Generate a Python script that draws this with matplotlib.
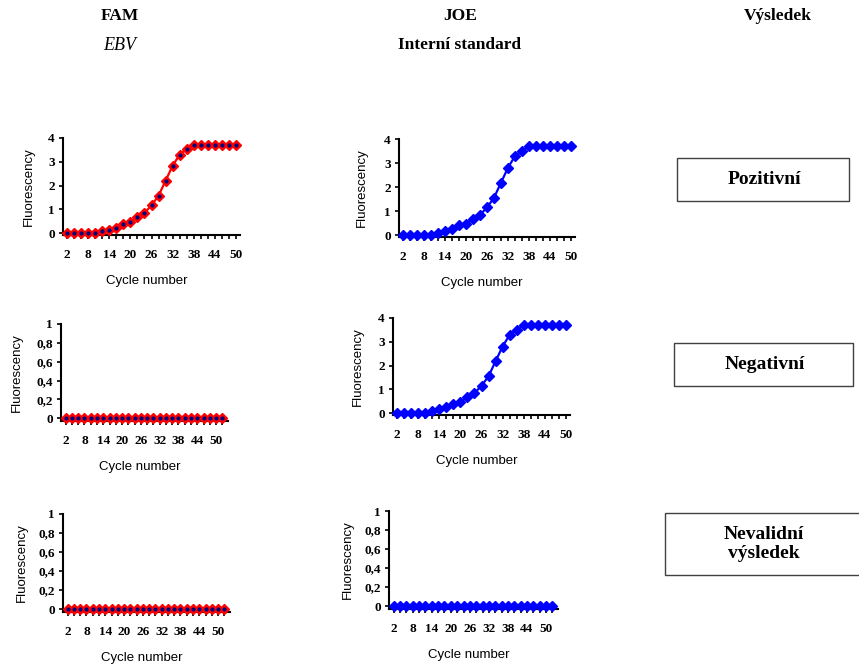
import matplotlib
matplotlib.use("Agg")
import matplotlib.pyplot as plt
from matplotlib.patches import Rectangle

W, H = 859, 664

# cycle numbers (categories) and fluorescence readings
cycles_pos = [2, 4, 6, 8, 10, 12, 14, 16, 18, 20, 22, 24, 26, 28, 30, 32, 34, 36, 38, 40, 42, 44, 46, 48, 50]
cycles_zero = [2, 4, 6, 8, 10, 12, 14, 16, 18, 20, 22, 24, 26, 28, 30, 32, 34, 36, 38, 40, 42, 44, 46, 48, 50, 52]
fam_pos = [0, 0, 0, 0, 0, 0.10, 0.15, 0.22, 0.37, 0.45, 0.68, 0.85, 1.17, 1.57, 2.20, 2.83, 3.30, 3.53, 3.70,
           3.70, 3.70, 3.70, 3.70, 3.70, 3.70]
joe_pos = [0, 0, 0, 0, 0, 0.10, 0.18, 0.26, 0.40, 0.47, 0.69, 0.84, 1.15, 1.55, 2.18, 2.80, 3.29, 3.50, 3.70,
           3.70, 3.70, 3.70, 3.70, 3.70, 3.70]
zero_vals = [0] * len(cycles_zero)

xtick_vals = [2, 8, 14, 20, 26, 32, 38, 44, 50]
ytick_big = [0, 1, 2, 3, 4]
ytick_small = [0, 0.2, 0.4, 0.6, 0.8, 1]
ytick_small_lbl = ["0", "0,2", "0,4", "0,6", "0,8", "1"]

col_titles = [("FAM", "EBV"), ("JOE", "Interní standard"), ("Výsledek", None)]
results = ["Pozitivní", "Negativní", "Nevalidní\nvýsledek"]

plt.rcParams['font.family'] = ['Liberation Serif', 'DejaVu Serif']

fig = plt.figure(figsize=(W / 100, H / 100), dpi=100)


def frac(x, y):
    return x / W, 1 - y / H


def panel(box, xs, ys, kind, small, xlim, ylabel_x, xlabel_gap=46):
    l, r, t, b = box
    ax = fig.add_axes([l / W, 1 - b / H, (r - l) / W, (b - t) / H])
    if kind == "fam":
        ax.plot(xs, ys, color="red", lw=1.6, marker="D", ms=5.2, mfc="red", mec="red", mew=1.0, clip_on=False, zorder=3)
        ax.plot(xs, ys, ls="none", marker="o", ms=2.0, color="#000080", clip_on=False, zorder=4)
    else:
        ax.plot(xs, ys, color="#0000ff", lw=1.6, marker="D", ms=5.6, mfc="#0000ff", mec="#0000ff", mew=1.0,
                clip_on=False, zorder=3)
    for s in ["top", "right"]:
        ax.spines[s].set_visible(False)
    for s in ["left", "bottom"]:
        ax.spines[s].set_linewidth(1.5)
    ax.set_xlim(*xlim)
    if small:
        ax.set_ylim(-0.03, 1)
        ax.set_yticks(ytick_small)
        ax.set_yticklabels(ytick_small_lbl)
    else:
        ax.set_ylim(-0.08, 4)
        ax.set_yticks(ytick_big)
    ax.set_xticks(xtick_vals)
    ax.set_xticks(xs, minor=True)
    ax.tick_params(axis="both", which="both", direction="out", length=3, width=1.2, labelsize=9.5)
    ax.tick_params(axis="x", pad=7)
    ax.tick_params(axis="y", pad=3)
    for lbl in ax.get_xticklabels() + ax.get_yticklabels():
        lbl.set_fontweight("bold")
    cx = (l + r) / 2
    fig.text(*frac(cx - 5, b + xlabel_gap), "Cycle number", family="Liberation Sans", fontsize=9.5,
             ha="center", va="center")
    fig.text(*frac(ylabel_x, (t + b) / 2), "Fluorescency", family="Liberation Sans", fontsize=9.5,
             rotation=90, ha="center", va="center")
    return ax


panel((63, 240, 138, 235), cycles_pos, fam_pos, "fam", False, (0.8, 51.2), 29)
panel((399, 575, 139, 237), cycles_pos, joe_pos, "joe", False, (0.8, 51.2), 362)
panel((61, 228, 324, 421), cycles_zero, zero_vals, "fam", True, (0.5, 53.8), 17)
panel((393, 570, 318, 415), cycles_pos, joe_pos, "joe", False, (0.8, 51.2), 358)
panel((63, 230, 514, 612), cycles_zero, zero_vals, "fam", True, (0.5, 53.8), 22)
panel((389, 558, 511, 609), cycles_zero, zero_vals, "joe", True, (0.5, 53.8), 348)

# column titles
title_x = [120, 460, 778]
for (top, sub), x in zip(col_titles, title_x):
    fig.text(*frac(x, 16), top, fontsize=12.5, fontweight="bold", ha="center", va="center")
    if sub == "EBV":
        fig.text(*frac(x, 45), sub, fontsize=13, style="italic", ha="center", va="center")
    elif sub is not None:
        fig.text(*frac(x, 45), sub, fontsize=12.5, fontweight="bold", ha="center", va="center")

# result boxes
boxes = [(677, 158, 849, 201), (674, 343, 853, 386), (665, 513, 860, 575)]
for (x0, y0, x1, y1), txt in zip(boxes, results):
    fig.add_artist(Rectangle(frac(x0, y1), (x1 - x0) / W, (y1 - y0) / H, transform=fig.transFigure,
                             fill=False, edgecolor="#404040", lw=1.0))
    fig.text(*frac((x0 + x1) / 2 + 1, (y0 + y1) / 2), txt, fontsize=14, fontweight="bold",
             ha="center", va="center", linespacing=1.15)

fig.savefig("out.png", dpi=100)
